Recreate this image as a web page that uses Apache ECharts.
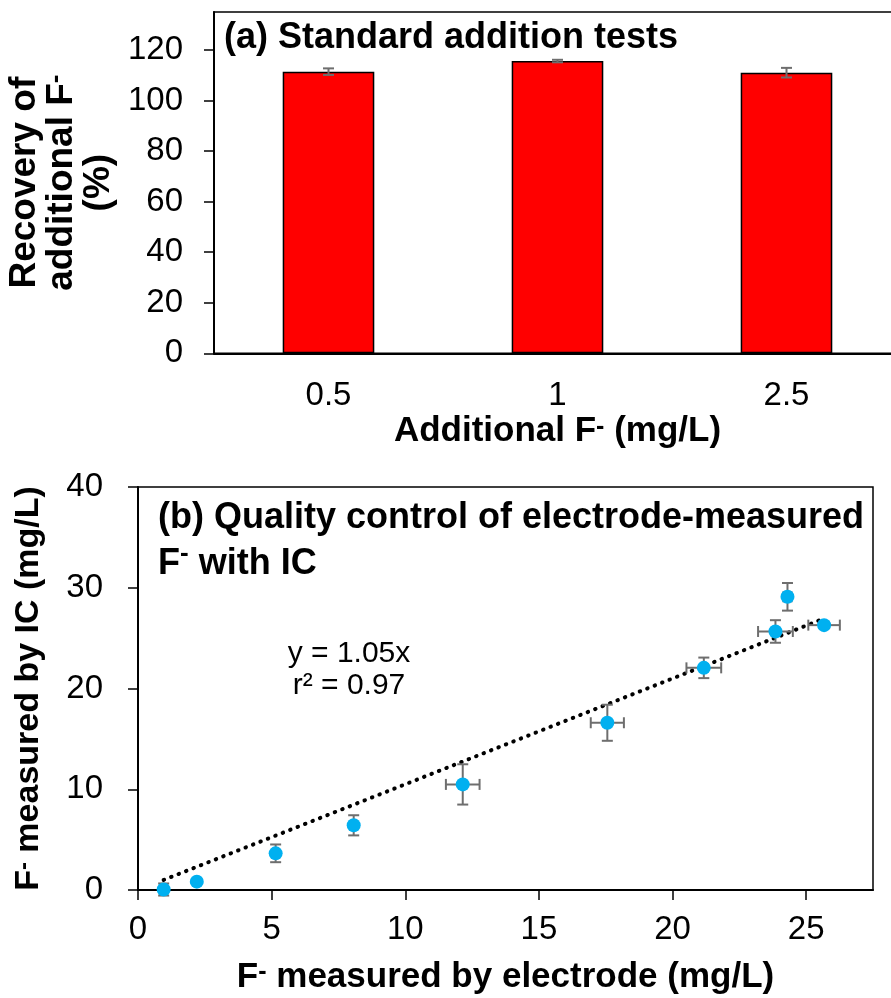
<!DOCTYPE html>
<html>
<head>
<meta charset="UTF-8">
<title>Standard addition and quality control</title>
<script src="https://cdn.jsdelivr.net/npm/echarts@6/dist/echarts.min.js"></script>
<style>
    html, body { margin: 0; padding: 0; background: #fff; }
    #chart { width: 891px; height: 998px; }
</style>
</head>
<body>
<div id="chart"></div>
<script>
    // (a) standard addition tests
    const additions = ['0.5', '1', '2.5'];
    const recovery = [111.4, 115.6, 111.0];
    const recoveryErr = [1.3, 0.5, 1.9];
    const recoveryTicks = [0, 20, 40, 60, 80, 100, 120];

    // (b) electrode vs IC
    const electrode = [0.96, 2.2, 5.15, 8.07, 12.15, 17.56, 21.17, 23.85, 24.3, 25.67];
    const ic = [0.05, 0.83, 3.64, 6.42, 10.48, 16.6, 22.05, 25.66, 29.1, 26.29];
    const electrodeErr = [0.1, 0.1, 0.1, 0.1, 0.63, 0.62, 0.65, 0.65, 0.15, 0.59];
    const icErr = [0.6, 0.2, 0.88, 1.0, 2.0, 1.79, 1.02, 1.12, 1.37, 0.3];
    const electrodeTicks = [0, 5, 10, 15, 20, 25];
    // trendline ends as drawn (y = 1.05x)
    const trendX = [0.96, 25.67];
    const trendY = [1.0, 26.95];

    const FONT = '"Liberation Sans", Arial, sans-serif';
    const ERR_COLOR = '#6e6e6e';

    function nameStyle(size, lh) {
        return {
            fontSize: size, fontWeight: 'bold', fontFamily: FONT, color: '#000',
            lineHeight: lh,
            rich: {
                b: { fontSize: size, fontWeight: 'bold', fontFamily: FONT, color: '#000', lineHeight: lh },
                sup: {
                    fontSize: Math.round(size * 0.7), fontWeight: 'bold', fontFamily: FONT, color: '#000',
                    verticalAlign: 'top', lineHeight: Math.round(lh * 0.5)
                }
            }
        };
    }
    const labelStyle = { fontSize: 33, fontFamily: FONT, color: '#000' };

    function capLine(x1, y1, x2, y2) {
        return {
            type: 'line',
            shape: { x1: x1, y1: y1, x2: x2, y2: y2 },
            style: { stroke: ERR_COLOR, lineWidth: 2 }
        };
    }

    // error bars for the bars
    function barErrItem(params, api) {
        const i = api.value(0), v = api.value(1), e = api.value(2);
        const top = api.coord([i, v + e]);
        const bot = api.coord([i, v - e]);
        const c = 5.5;
        return {
            type: 'group',
            children: [
                capLine(top[0], top[1], bot[0], bot[1]),
                capLine(top[0] - c, top[1], top[0] + c, top[1]),
                capLine(bot[0] - c, bot[1], bot[0] + c, bot[1])
            ]
        };
    }

    // x and y error bars for the scatter
    function xyErrItem(params, api) {
        const x = api.value(0), y = api.value(1), ex = api.value(2), ey = api.value(3);
        const c = 5.5;
        const kids = [];
        const t = api.coord([x, y + ey]), b = api.coord([x, y - ey]);
        kids.push(capLine(t[0], t[1], b[0], b[1]));
        kids.push(capLine(t[0] - c, t[1], t[0] + c, t[1]));
        kids.push(capLine(b[0] - c, b[1], b[0] + c, b[1]));
        const l = api.coord([x - ex, y]), r = api.coord([x + ex, y]);
        kids.push(capLine(l[0], l[1], r[0], r[1]));
        kids.push(capLine(l[0], l[1] - c, l[0], l[1] + c));
        kids.push(capLine(r[0], r[1] - c, r[0], r[1] + c));
        return { type: 'group', children: kids };
    }

    const chart = echarts.init(document.getElementById('chart'));

    const option = {
        backgroundColor: '#fff',
        animation: false,
        title: [
            {
                text: '(a) Standard addition tests',
                left: 224, top: 20, padding: 0,
                textStyle: { fontSize: 36, fontWeight: 'bold', fontFamily: FONT, color: '#000', lineHeight: 36 }
            },
            {
                text: '{b|(b) Quality control of electrode-measured}\n{b|F}{sup|-}{b| with IC}',
                left: 158, top: 495, padding: 0,
                textStyle: {
                    fontSize: 36, fontWeight: 'bold', fontFamily: FONT, color: '#000', lineHeight: 46,
                    rich: {
                        b: { fontSize: 36, fontWeight: 'bold', fontFamily: FONT, color: '#000', lineHeight: 46 },
                        sup: { fontSize: 26, fontWeight: 'bold', fontFamily: FONT, color: '#000', verticalAlign: 'top', lineHeight: 22 }
                    }
                }
            }
        ],
        graphic: [
            {
                type: 'text',
                x: 349, y: 670,
                style: {
                    text: 'y = 1.05x\nr² = 0.97',
                    fontSize: 30, fontFamily: FONT, fill: '#000',
                    align: 'center', verticalAlign: 'middle', lineHeight: 32
                }
            }
        ],
        grid: [
            {
                left: 214, top: 12, right: -10, bottom: 644.7, outerBoundsMode: 'none',
                show: true, borderColor: '#000', borderWidth: 1.5
            },
            {
                left: 138, top: 487, right: 18, bottom: 108, outerBoundsMode: 'none',
                show: true, borderColor: '#000', borderWidth: 1.5
            }
        ],
        xAxis: [
            {
                gridIndex: 0, type: 'category', data: additions,
                name: '{b|Additional F}{sup|-}{b| (mg/L)}',
                nameLocation: 'middle', nameGap: 61,
                nameTextStyle: nameStyle(35, 34),
                axisLine: { lineStyle: { color: '#000', width: 2 } },
                axisTick: { alignWithLabel: true, length: 7, lineStyle: { color: '#000', width: 1.5 } },
                axisLabel: Object.assign({ margin: 26 }, labelStyle),
                splitLine: { show: false }
            },
            {
                gridIndex: 1, type: 'value', min: 0, max: 27.5,
                name: '{b|F}{sup|-}{b| measured by electrode (mg/L)}',
                nameLocation: 'middle', nameGap: 70,
                nameTextStyle: nameStyle(35, 34),
                axisLine: { onZero: false, lineStyle: { color: '#000', width: 2 } },
                axisTick: { customValues: electrodeTicks, length: 10, lineStyle: { color: '#000', width: 1.5 } },
                axisLabel: Object.assign({ customValues: electrodeTicks, margin: 23 }, labelStyle),
                splitLine: { show: false }
            }
        ],
        yAxis: [
            {
                gridIndex: 0, type: 'value', min: 0, max: 135,
                name: '{b|Recovery of}\n{b|additional F}{sup|-}\n{b|(%)}',
                nameLocation: 'middle', nameGap: 64, nameRotate: 90,
                nameTextStyle: Object.assign(nameStyle(37, 37), { align: 'center' }),
                axisLine: { show: true, lineStyle: { color: '#000', width: 2 } },
                axisTick: { show: true, customValues: recoveryTicks, length: 10, lineStyle: { color: '#000', width: 1.5 } },
                axisLabel: Object.assign({ customValues: recoveryTicks, margin: 31 }, labelStyle),
                splitLine: { show: false }
            },
            {
                gridIndex: 1, type: 'value', min: 0, max: 40, interval: 10,
                name: '{b|F}{sup|-}{b| measured by IC (mg/L)}',
                nameLocation: 'middle', nameGap: 92, nameRotate: 90,
                nameTextStyle: nameStyle(34, 34),
                axisLine: { show: true, onZero: false, lineStyle: { color: '#000', width: 2 } },
                axisTick: { show: true, length: 10, lineStyle: { color: '#000', width: 1.5 } },
                axisLabel: Object.assign({ margin: 35 }, labelStyle),
                splitLine: { show: false }
            }
        ],
        series: [
            {
                type: 'bar', xAxisIndex: 0, yAxisIndex: 0,
                data: recovery,
                barWidth: '40%',
                itemStyle: { color: '#ff0000', borderColor: '#000', borderWidth: 1.5 },
                z: 2
            },
            {
                type: 'custom', xAxisIndex: 0, yAxisIndex: 0,
                data: recovery.map((v, i) => [i, v, recoveryErr[i]]),
                renderItem: barErrItem,
                z: 3
            },
            {
                type: 'line', xAxisIndex: 1, yAxisIndex: 1,
                data: trendX.map((x, i) => [x, trendY[i]]),
                showSymbol: false, symbol: 'none',
                lineStyle: { color: '#000', width: 4, type: [0.5, 7.5], cap: 'round' },
                z: 2
            },
            {
                type: 'custom', xAxisIndex: 1, yAxisIndex: 1,
                data: electrode.map((x, i) => [x, ic[i], electrodeErr[i], icErr[i]]),
                renderItem: xyErrItem,
                clip: false,
                z: 3
            },
            {
                type: 'scatter', xAxisIndex: 1, yAxisIndex: 1,
                data: electrode.map((x, i) => [x, ic[i]]),
                symbolSize: 14,
                itemStyle: { color: '#00b0f0', opacity: 1 },
                z: 4
            }
        ]
    };

    chart.setOption(option);
</script>
</body>
</html>
